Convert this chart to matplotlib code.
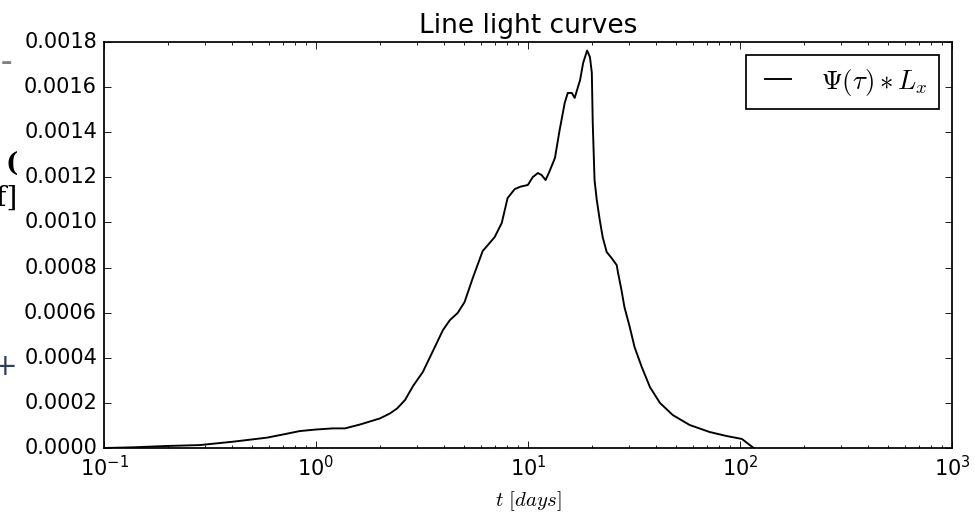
import matplotlib
matplotlib.use("Agg")
import matplotlib.pyplot as plt

# convolved line light curve, t in days
t_days = [0.1, 0.137, 0.198, 0.283, 0.406, 0.588, 0.699, 0.837, 1.0, 1.20,
          1.37, 1.61, 2.00, 2.23, 2.41, 2.63, 2.87, 3.19, 3.56, 3.97,
          4.28, 4.66, 5.02, 5.49, 6.11, 6.96, 7.52, 8.01, 8.66, 9.24,
          9.98, 10.53, 11.13, 11.6, 12.1, 12.6, 13.4, 14.1, 14.9, 15.4,
          16.1, 16.6, 17.6, 18.2, 19.0, 19.6, 20.0, 20.2, 20.6, 21.1,
          21.8, 22.5, 23.5, 24.8, 26.2, 26.6, 27.6, 28.5, 30.2, 31.8,
          34.4, 37.6, 41.9, 48.2, 57.9, 71.9, 86.6, 97.2, 102.1, 116.0]
flux = [0.0, 0.000003, 0.000009, 0.000013, 0.000028, 0.000046, 0.000060, 0.000075, 0.000082, 0.000087,
        0.000087, 0.000104, 0.000131, 0.000153, 0.000175, 0.000213, 0.000275, 0.000337, 0.000430, 0.000523,
        0.000567, 0.000599, 0.000647, 0.000754, 0.000873, 0.000935, 0.000998, 0.001108, 0.001148, 0.001159,
        0.001166, 0.001201, 0.001219, 0.001210, 0.001188, 0.001224, 0.001286, 0.001410, 0.001530, 0.001574,
        0.001574, 0.001552, 0.001631, 0.001707, 0.001762, 0.001733, 0.001663, 0.001441, 0.001188, 0.001100,
        0.001011, 0.000935, 0.000869, 0.000842, 0.000811, 0.000776, 0.000700, 0.000625, 0.000536, 0.000448,
        0.000359, 0.000270, 0.000200, 0.000146, 0.000102, 0.000071, 0.000053, 0.000044, 0.000040, 0.0]

plt.style.use("classic")
plt.rcParams["mathtext.fontset"] = "cm"

fig = plt.figure(figsize=(7.8, 4.168), dpi=125, facecolor="white")
ax = fig.add_axes([0.1067, 0.1401, 0.8697, 0.7793])

ax.plot(t_days, flux, "k-", linewidth=1.1, label=r"$\Psi(\tau)*L_x$")
ax.set_xscale("log")
ax.set_xlim(0.1, 1000)
ax.set_ylim(0, 0.0018)
ax.set_title("Line light curves", fontsize=15.2)
ax.set_xlabel(r"$t\ [days]$")
ax.legend(loc="upper right", fontsize=15.5, borderpad=0.42, handlelength=1.55)

# stray glyphs along the left margin
fig.text(0.001, 0.868, "\u2013", family="DejaVu Serif", fontsize=13, fontweight="bold", color="0.5")
fig.text(0.006, 0.67, "(", family="DejaVu Serif", fontsize=15, fontweight="bold", color="black")
fig.text(-0.004, 0.605, "f]", family="DejaVu Serif", fontsize=16, color="black")
fig.text(-0.007, 0.28, "+", family="DejaVu Serif", fontsize=17, color="#2f3f5a")

fig.savefig("out.png", dpi=125, facecolor="white")
